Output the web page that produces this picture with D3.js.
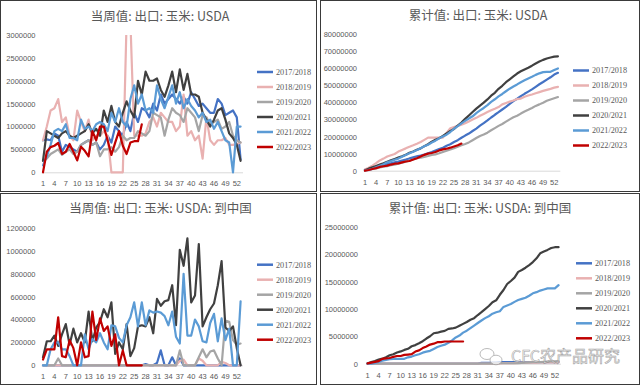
<!DOCTYPE html>
<html><head><meta charset="utf-8">
<script src="https://cdn.jsdelivr.net/npm/d3@7/dist/d3.min.js"></script>
<style>body{margin:0;background:#fff}svg{display:block}</style>
</head><body>
<svg id="c" width="640" height="386"></svg>
<script>
// ---------- categories & labels ----------
const seasons = ["2017/2018","2018/2019","2019/2020","2020/2021","2021/2022","2022/2023"];
const seasonColors = ["#4472C4","#E9B1B1","#A5A5A5","#404040","#5B9BD5","#C00000"];
const weeks = d3.range(1, 54);
const xTickLabels = [1,4,7,10,13,16,19,22,25,28,31,34,37,40,43,46,49,52];

const ticksWeekly = [0,500000,1000000,1500000,2000000,2500000,3000000];
const ticksCumul = [0,10000000,20000000,30000000,40000000,50000000,60000000,70000000,80000000];
const ticksWeeklyCN = [0,200000,400000,600000,800000,1000000,1200000];
const ticksCumulCN = [0,5000000,10000000,15000000,20000000,25000000];

// ---------- 当周值: 出口: 玉米: USDA ----------
const weekly1718 = [700000,720000,700000,850000,800000,450000,600000,550000,500000,450000,600000,650000,700000,600000,650000,500000,600000,800000,650000,1000000,900000,800000,1100000,900000,1300000,1100000,1400000,1350000,1200000,1500000,1350000,1700000,1500000,1600000,1700000,1600000,1500000,1650000,1500000,1750000,1600000,1450000,1500000,1400000,1300000,1300000,1600000,1500000,1250000,1300000,1350000,1200000,280000];
const weekly1819 = [700000,1000000,1350000,1400000,1600000,1100000,1200000,800000,700000,1350000,1100000,900000,1150000,700000,800000,800000,900000,800000,0,0,0,0,3300000,3300000,800000,800000,800000,850000,1100000,1200000,1000000,1300000,1200000,1100000,1100000,900000,1000000,1700000,800000,900000,700000,800000,300000,1200000,700000,600000,700000,700000,750000,600000,600000,620000,650000];
const weekly1920 = [250000,300000,400000,450000,500000,380000,450000,500000,400000,450000,600000,650000,700000,600000,650000,350000,500000,500000,550000,450000,550000,800000,700000,750000,750000,900000,850000,800000,900000,1300000,1250000,1200000,800000,1150000,1400000,1300000,1250000,1100000,1400000,1300000,1200000,900000,1250000,1200000,1050000,1100000,1150000,950000,1000000,1100000,800000,700000,650000];
const weekly2021 = [250000,900000,850000,800000,750000,850000,900000,800000,750000,800000,850000,900000,1050000,850000,950000,800000,1350000,1100000,1450000,1100000,1000000,1300000,1550000,1350000,1200000,2000000,1700000,2200000,2000000,2000000,2050000,1800000,1650000,1900000,2200000,1750000,2250000,1800000,2150000,1700000,1700000,1650000,1300000,1150000,1000000,1150000,1350000,1400000,1150000,850000,750000,600000,250000];
const weekly2122 = [150000,350000,600000,900000,950000,900000,1050000,750000,750000,700000,1150000,950000,1000000,900000,1050000,1100000,1050000,900000,1300000,1100000,1400000,1100000,1000000,1600000,1900000,1500000,1700000,1350000,1400000,1300000,1900000,1600000,1400000,1650000,1900000,1500000,1750000,1400000,1600000,1450000,1350000,1200000,1300000,1100000,1150000,950000,1100000,900000,700000,650000,0,1000000,1000000];
const weekly2223 = [0,450000,550000,580000,640000,400000,450000,620000,450000,260000,560000,470000,350000,900000,700000,1000000,1000000,700000,380000,650000,900000,580000,400000,650000,680000,680000,1050000];

// ---------- 累计值: 出口: 玉米: USDA ----------
const cumul1718 = [500000,1000000,1600000,2200000,2800000,3300000,3900000,4400000,4900000,5300000,5900000,6500000,7200000,7800000,8400000,8900000,9500000,10200000,10900000,11800000,12700000,13500000,14600000,15500000,16800000,17900000,19300000,20600000,21800000,23300000,24700000,26400000,27900000,29500000,31200000,32800000,34300000,35900000,37400000,39200000,40800000,42200000,43700000,45100000,46400000,47700000,49200000,50700000,52000000,53400000,54800000,56400000,57400000];
const cumul1819 = [700000,1700000,3000000,4400000,6000000,7100000,8300000,9100000,9800000,11200000,12200000,13100000,14100000,14900000,15800000,16800000,18100000,19400000,19400000,19400000,19400000,19400000,22200000,24900000,25600000,26300000,27000000,27800000,28900000,30000000,31000000,32200000,33300000,34400000,35400000,36300000,37300000,38900000,39700000,40500000,41200000,42000000,42300000,43400000,44100000,44700000,45400000,46100000,46800000,47400000,48000000,48700000,49200000];
const cumul1920 = [300000,600000,1000000,1400000,1900000,2300000,2700000,3200000,3600000,4100000,4700000,5300000,6000000,6600000,7300000,7600000,8100000,8600000,9200000,9600000,10200000,11000000,11700000,12400000,13200000,14100000,14900000,15700000,16600000,17900000,19200000,20400000,21200000,22300000,23700000,25000000,26300000,27400000,28800000,30100000,31300000,32200000,33500000,34700000,35700000,36800000,38000000,38900000,39900000,41000000,41800000,42500000,43200000];
const cumul2021 = [300000,1200000,2000000,2800000,3600000,4400000,5300000,6100000,6900000,7700000,8500000,9400000,10500000,11300000,12300000,13100000,14400000,15500000,17000000,18100000,19100000,20400000,21900000,23300000,24500000,26500000,28200000,30400000,32400000,34400000,36400000,38200000,39900000,41800000,44000000,45700000,48000000,49800000,51900000,53600000,55300000,57000000,58300000,59400000,60400000,61600000,62900000,64000000,65000000,65800000,66400000,66900000,67100000];
const cumul2122 = [200000,500000,1100000,2000000,2900000,3800000,4900000,5600000,6400000,7100000,8200000,9200000,10200000,11100000,12100000,13200000,14300000,15200000,16500000,17600000,19000000,20100000,21100000,22700000,24600000,26100000,27800000,29200000,30600000,31900000,33800000,35400000,36800000,38500000,40400000,41900000,43600000,45000000,46600000,48100000,49400000,50600000,51900000,53000000,54100000,55100000,56200000,57100000,57800000,58000000,58000000,59000000,60000000];
const cumul2223 = [0,400000,1000000,1500000,2200000,2600000,3000000,3600000,4100000,4300000,4900000,5400000,5700000,6600000,7300000,8300000,9300000,10000000,10400000,11000000,11900000,12500000,12900000,13500000,14200000,14900000,15900000];

// ---------- 当周值: 出口: 玉米: USDA: 到中国 ----------
const weeklyCN1718 = [0,0,0,0,0,0,0,0,0,0,0,0,0,0,0,0,0,0,0,0,0,0,0,0,0,0,0,10000,0,0,20000,130000,0,0,70000,0,60000,0,0,0,0,0,0,0,0,0,0,0,0,0,0,0,0];
const weeklyCN1819 = [0,0,0,0,0,0,0,0,0,0,0,0,0,0,0,0,0,0,0,0,0,0,0,0,0,0,0,0,0,0,0,0,0,0,0,0,40000,50000,0,0,0,60000,40000,0,0,0,0,30000,20000,0,0,0,0];
const weeklyCN1920 = [0,0,0,0,60000,0,0,0,0,0,0,0,0,0,0,0,0,0,0,0,0,0,0,0,0,0,0,0,0,0,0,0,0,0,0,0,130000,0,0,0,0,70000,140000,70000,120000,130000,60000,0,390000,380000,220000,180000,190000];
const weeklyCN2021 = [70000,210000,210000,260000,170000,270000,360000,180000,320000,200000,280000,200000,470000,210000,330000,380000,490000,420000,550000,100000,200000,140000,360000,80000,150000,340000,350000,340000,420000,280000,580000,520000,560000,570000,700000,350000,1010000,870000,1110000,550000,610000,1060000,340000,420000,490000,540000,700000,910000,330000,300000,340000,150000,0];
const weeklyCN2122 = [0,0,140000,200000,200000,140000,140000,80000,0,0,0,270000,140000,230000,200000,280000,200000,140000,350000,340000,240000,200000,350000,420000,550000,340000,550000,350000,480000,460000,470000,460000,430000,350000,470000,250000,190000,800000,260000,260000,400000,340000,210000,200000,370000,450000,210000,410000,220000,320000,0,0,560000];
const weeklyCN2223 = [50000,140000,140000,140000,420000,80000,70000,220000,150000,0,200000,70000,80000,470000,220000,410000,300000,340000,170000,270000,0,130000,0,0,0,0,0];

// ---------- 累计值: 出口: 玉米: USDA: 到中国 ----------
const cumulCN1718 = [0,0,0,0,0,0,0,0,0,0,0,0,0,0,0,0,0,0,0,0,0,0,0,0,0,0,0,0,0,0,20000,150000,150000,150000,220000,220000,280000,280000,280000,280000,280000,280000,280000,280000,280000,280000,280000,280000,280000,280000,280000,280000,280000];
const cumulCN1819 = [0,0,0,0,0,0,0,0,0,0,0,0,0,0,0,0,0,0,0,0,0,0,0,0,0,0,0,0,0,0,0,0,0,0,0,0,40000,90000,90000,90000,90000,150000,190000,190000,190000,190000,190000,220000,240000,240000,240000,240000,240000];
const cumulCN1920 = [0,0,0,0,30000,30000,30000,30000,30000,30000,30000,30000,30000,30000,30000,30000,30000,30000,30000,30000,30000,30000,30000,30000,30000,30000,30000,30000,30000,30000,30000,30000,30000,30000,30000,30000,80000,80000,80000,80000,80000,110000,160000,190000,230000,280000,300000,300000,350000,400000,420000,440000,460000];
const cumulCN2021 = [70000,280000,490000,750000,920000,1190000,1550000,1730000,2050000,2250000,2530000,2730000,3200000,3410000,3740000,4120000,4610000,5030000,5580000,5680000,5880000,6020000,6380000,6460000,6610000,6950000,7300000,7640000,8060000,8340000,8920000,9440000,10000000,10570000,11270000,11620000,12630000,13500000,14610000,15160000,15770000,16830000,17170000,17590000,18080000,18620000,19320000,20230000,20560000,20860000,21200000,21350000,21350000];
const cumulCN2122 = [0,0,140000,340000,540000,680000,820000,900000,900000,900000,900000,1170000,1310000,1540000,1740000,2020000,2220000,2360000,2710000,3050000,3290000,3490000,3840000,4260000,4810000,5150000,5700000,6050000,6530000,6990000,7460000,7920000,8350000,8700000,9170000,9420000,9610000,10410000,10670000,10930000,11330000,11670000,11880000,12080000,12450000,12900000,13110000,13400000,13600000,13800000,13800000,13800000,14400000];
const cumulCN2223 = [50000,190000,330000,470000,890000,970000,1040000,1260000,1410000,1410000,1610000,1680000,1760000,2230000,2450000,2860000,3160000,3500000,3670000,3940000,3940000,4070000,4070000,4070000,4070000,4070000,4070000];

// ---------- drawing ----------
const svg = d3.select("#c");
const TXT = "#595959";

// panel frames
[[0.5,0.5,316,191],[320.5,0.5,319,191],[0.5,193.5,316,191],[320.5,193.5,319,191]].forEach(f=>{
  svg.append("rect").attr("x",f[0]).attr("y",f[1]).attr("width",f[2]).attr("height",f[3])
    .attr("fill","none").attr("stroke","#3a3a3a").attr("stroke-width",1);
});

function panel(cfg, idx){
  const g = svg.append("g");
  const x = d3.scaleBand().domain(weeks).range([cfg.x0, cfg.x1]);
  const y = d3.scaleLinear().domain([0, cfg.ymax]).range([cfg.yb, cfg.yt]);
  const cx = w => x(w) + x.bandwidth()/2;

  const clipId = "clip" + idx;
  svg.append("defs").append("clipPath").attr("id", clipId).append("rect")
    .attr("x", cfg.x0 - 3).attr("y", cfg.yt).attr("width", cfg.x1 - cfg.x0 + 6).attr("height", cfg.yb - cfg.yt + 3);

  // title
  g.append("text").attr("x", cfg.tx).attr("y", cfg.ty).attr("text-anchor","middle")
    .attr("font-family","'Noto Sans CJK SC','Noto Sans',sans-serif").attr("font-size",12.5)
    .attr("fill",TXT).text(cfg.title);

  // y axis (labels only)
  const ya = g.append("g").attr("transform",`translate(${cfg.ylx},0)`)
    .call(d3.axisLeft(y).tickValues(cfg.yTicks).tickSize(0).tickPadding(0).tickFormat(d3.format("d")));
  ya.select(".domain").remove();
  ya.selectAll("text").attr("font-family","'Liberation Sans',Arial,sans-serif").attr("font-size",7.5).attr("fill",TXT);

  // x axis
  const xa = g.append("g").attr("transform",`translate(0,${cfg.yb})`)
    .call(d3.axisBottom(x).tickValues(xTickLabels).tickSize(0).tickPadding(cfg.xpad));
  xa.select(".domain").attr("stroke","#D9D9D9").attr("stroke-width",1);
  xa.selectAll("text").attr("font-family","'Liberation Sans',Arial,sans-serif").attr("font-size",7.5).attr("fill",TXT);

  // lines
  const line = d3.line().x((d,i)=>cx(weeks[i])).y(d=>y(d));
  const lg = g.append("g").attr("clip-path",`url(#${clipId})`);
  cfg.series.forEach((s,i)=>{
    lg.append("path").datum(s).attr("d",line).attr("fill","none")
      .attr("stroke",seasonColors[i]).attr("stroke-width",2.2)
      .attr("stroke-linejoin","round").attr("stroke-linecap","round");
  });

  // legend
  seasons.forEach((s,i)=>{
    const yy = cfg.ly + i*15;
    g.append("line").attr("x1",cfg.lx).attr("x2",cfg.lx+16).attr("y1",yy).attr("y2",yy)
      .attr("stroke",seasonColors[i]).attr("stroke-width",2.5);
    g.append("text").attr("x",cfg.lx+19).attr("y",yy).attr("dy","0.35em")
      .attr("font-family","'Liberation Serif','DejaVu Serif',serif").attr("font-size",8.2)
      .attr("fill",TXT).text(s);
  });
}

panel({title:"当周值: 出口: 玉米: USDA", tx:160, ty:20.5, x0:41.1, x1:242.5, yb:172.3, yt:35,
  ymax:3000000, yTicks:ticksWeekly, ylx:35.5, xpad:8, lx:257, ly:72,
  series:[weekly1718,weekly1819,weekly1920,weekly2021,weekly2122,weekly2223]}, 0);

panel({title:"累计值: 出口: 玉米: USDA", tx:478, ty:20, x0:363.1, x1:559.8, yb:170.7, yt:34.3,
  ymax:80000000, yTicks:ticksCumul, ylx:357, xpad:9, lx:573, ly:70.5,
  series:[cumul1718,cumul1819,cumul1920,cumul2021,cumul2122,cumul2223]}, 1);

panel({title:"当周值: 出口: 玉米: USDA: 到中国", tx:160.5, ty:212.5, x0:41.1, x1:242.5, yb:365.3, yt:228,
  ymax:1200000, yTicks:ticksWeeklyCN, ylx:35.5, xpad:8, lx:257, ly:264.7,
  series:[weeklyCN1718,weeklyCN1819,weeklyCN1920,weeklyCN2021,weeklyCN2122,weeklyCN2223]}, 2);

panel({title:"累计值: 出口: 玉米: USDA: 到中国", tx:480, ty:212.5, x0:365.8, x1:560.4, yb:363.7, yt:227.3,
  ymax:25000000, yTicks:ticksCumulCN, ylx:358, xpad:9, lx:576, ly:263.3,
  series:[cumulCN1718,cumulCN1819,cumulCN1920,cumulCN2021,cumulCN2122,cumulCN2223]}, 3);

// watermark
const wm = svg.append("g").attr("opacity",0.75);
wm.append("ellipse").attr("cx",487).attr("cy",354).attr("rx",7).attr("ry",5.5)
  .attr("fill","none").attr("stroke","#9a9a9a").attr("stroke-width",0.9);
wm.append("ellipse").attr("cx",496).attr("cy",360).attr("rx",6).attr("ry",4.8)
  .attr("fill","#fff").attr("stroke","#9a9a9a").attr("stroke-width",0.9);
wm.append("text").attr("x",511).attr("y",362).attr("font-family","'Noto Sans CJK SC',sans-serif")
  .attr("font-size",16).attr("fill","#f2f2f2").attr("stroke","#8a8a8a").attr("stroke-width",0.6)
  .text("CFC农产品研究");
</script>
</body></html>
